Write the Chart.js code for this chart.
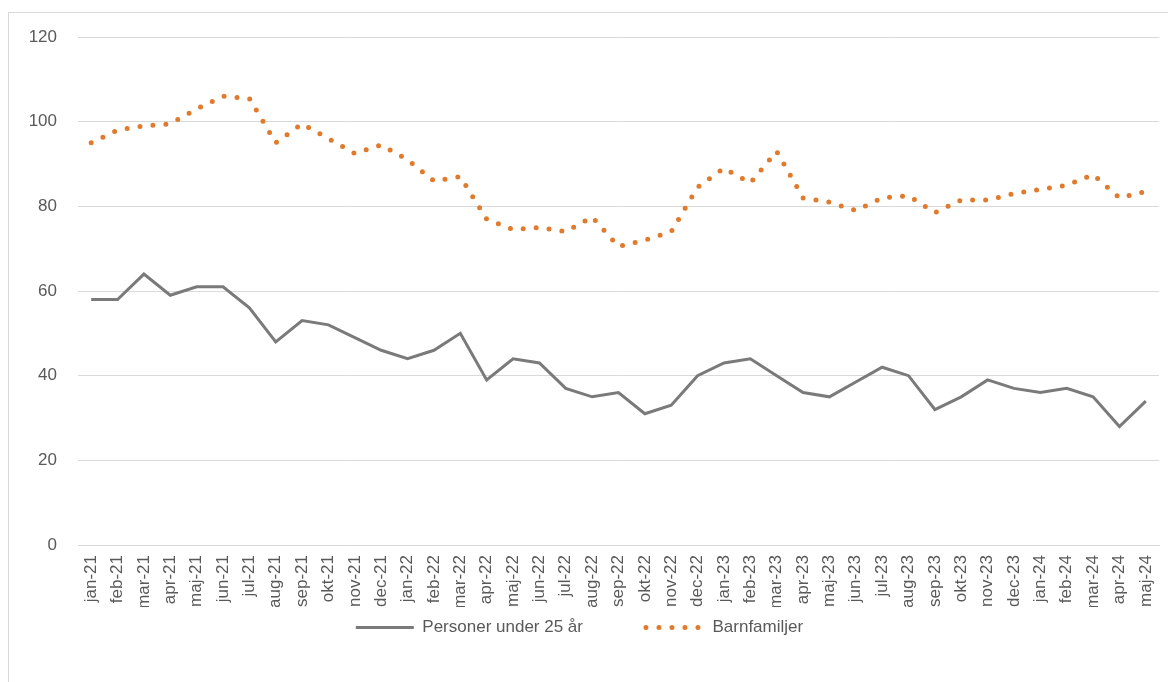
<!DOCTYPE html>
<html>
<head>
<meta charset="utf-8">
<script src="https://cdn.jsdelivr.net/npm/chart.js@4"></script>
<style>
  html, body { margin: 0; padding: 0; background: #fff; overflow: hidden; }
  #wrap { position: relative; width: 1168px; height: 682px; }
  #frame { position: absolute; left: 8px; top: 12px; width: 1200px; height: 700px; border: 1px solid #d9d9d9; }
  #chart { position: absolute; left: 0; top: 0; }
</style>
</head>
<body>
<div id="wrap">
  <div id="frame"></div>
  <canvas id="chart" width="1168" height="682"></canvas>
</div>
<script>
// -------------------------------
// DATA
// -------------------------------
const months = [
  "jan-21", "feb-21", "mar-21", "apr-21", "maj-21", "jun-21", "jul-21", "aug-21", "sep-21", "okt-21", "nov-21", "dec-21",
  "jan-22", "feb-22", "mar-22", "apr-22", "maj-22", "jun-22", "jul-22", "aug-22", "sep-22", "okt-22", "nov-22", "dec-22",
  "jan-23", "feb-23", "mar-23", "apr-23", "maj-23", "jun-23", "jul-23", "aug-23", "sep-23", "okt-23", "nov-23", "dec-23",
  "jan-24", "feb-24", "mar-24", "apr-24", "maj-24"
];

const under25 = [
  58, 58, 64, 59, 61, 61, 56, 48, 53, 52, 49, 46,
  44, 46, 50, 39, 44, 43, 37, 35, 36, 31, 33, 40,
  43, 44, 40, 36, 35, 38.5, 42, 40, 32, 35, 39, 37,
  36, 37, 35, 28, 34
];

const barnfamiljer = [
  95, 98, 99, 99.5, 103, 106, 105.5, 95, 99.5, 96, 92.5, 94.5,
  91, 86, 87, 77, 74.5, 75, 74, 77.5, 70.5, 72, 74, 84.5,
  89, 85.5, 93, 82, 81, 79, 82, 82.5, 78.5, 81.5, 81.5, 83,
  84, 85, 87.5, 82, 83.5
];

const yTicks = { min: 0, max: 120, step: 20 };

const textColor = "#595959";
const gridColor = "#d9d9d9";
const font = { family: "'Liberation Sans', Arial, sans-serif", size: 17 };

// -------------------------------
// CHART
// -------------------------------
new Chart(document.getElementById("chart"), {
  type: "line",
  data: {
    labels: months,
    datasets: [
      {
        label: "Personer under 25 år",
        data: under25,
        borderColor: "#7a7a7a",
        backgroundColor: "#7a7a7a",
        borderWidth: 3,
        pointRadius: 0,
        tension: 0
      },
      {
        label: "Barnfamiljer",
        data: barnfamiljer,
        borderColor: "#e07a2c",
        backgroundColor: "#e07a2c",
        borderWidth: 5,
        borderDash: [0, 13],
        borderCapStyle: "round",
        pointRadius: 0,
        tension: 0
      }
    ]
  },
  options: {
    responsive: false,
    animation: false,
    layout: { padding: { left: 0, right: 9, top: 37, bottom: 36 } },
    scales: {
      x: {
        offset: true,
        grid: { display: false, drawTicks: false },
        border: { display: true, color: gridColor },
        ticks: { color: textColor, font: font, minRotation: 90, maxRotation: 90, padding: 10, autoSkip: false },
        afterFit: s => { s.height = 62; s.paddingLeft = 0; s.paddingRight = 0; }
      },
      y: {
        min: yTicks.min,
        max: yTicks.max,
        grid: { color: gridColor, drawTicks: false },
        border: { display: false },
        ticks: { stepSize: yTicks.step, color: textColor, font: font, padding: 21 },
        afterFit: s => { s.width = 78; }
      }
    },
    plugins: {
      legend: {
        position: "bottom",
        labels: {
          color: textColor,
          font: font,
          usePointStyle: true,
          pointStyle: "line",
          pointStyleWidth: 58,
          padding: 12,
          generateLabels: chart => chart.data.datasets.map((ds, i) => ({
            text: i === 0 ? ds.label + "\u2003\u2003\u2003" : ds.label,
            datasetIndex: i,
            fontColor: textColor,
            strokeStyle: ds.borderColor,
            fillStyle: ds.backgroundColor,
            lineWidth: ds.borderWidth,
            lineDash: ds.borderDash || [],
            lineCap: ds.borderCapStyle || "butt",
            pointStyle: "line",
            hidden: false
          }))
        }
      },
      tooltip: { enabled: false }
    }
  }
});
</script>
</body>
</html>
